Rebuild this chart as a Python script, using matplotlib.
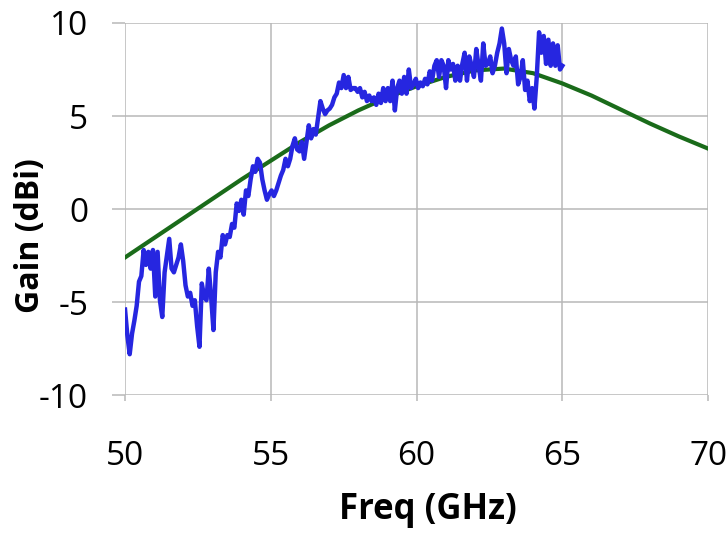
import numpy as np
import matplotlib.pyplot as plt

plt.rcParams['font.family'] = ['Open Sans', 'DejaVu Sans']
plt.rcParams['axes.unicode_minus'] = False

# simulated gain (green), 1 GHz steps
sim_freq = [50, 51, 52, 53, 54, 55, 56, 57, 58, 59, 60,
            61, 62, 63, 64, 65, 66, 67, 68, 69, 70]
sim_gain = [-2.6, -1.55, -0.5, 0.55, 1.6, 2.6, 3.6, 4.5, 5.3, 6.0, 6.6,
            7.1, 7.45, 7.55, 7.3, 6.75, 6.1, 5.35, 4.6, 3.9, 3.25]

# measured gain (blue), uniform sweep 50-65 GHz
meas_gain = [
    -5.4, -6.8, -7.8, -6.7, -6.0, -5.2, -3.9, -3.6, -2.2, -3.0,
    -2.3, -3.2, -2.2, -4.7, -2.3, -4.9, -5.8, -3.4, -2.5, -1.6,
    -3.2, -3.4, -3.0, -2.6, -1.9, -2.8, -4.1, -4.7, -4.5, -5.2,
    -4.9, -6.3, -7.4, -4.0, -4.7, -4.9, -3.2, -4.7, -6.5, -3.4,
    -2.3, -2.6, -1.4, -1.9, -1.4, -1.5, -0.8, -1.0, 0.3, -0.1,
    0.5, -0.3, 1.0, 0.7, 1.6, 2.3, 2.0, 2.7, 2.5, 1.6,
    1.0, 0.5, 0.8, 1.0, 0.7, 1.0, 1.4, 1.8, 2.1, 2.7,
    2.3, 2.7, 3.4, 3.8, 3.2, 3.1, 3.6, 2.7, 3.6, 4.5,
    3.8, 4.3, 4.0, 4.9, 5.8, 5.4, 5.1, 5.3, 5.4, 5.6,
    6.0, 6.2, 6.8, 6.5, 7.2, 6.5, 7.1, 6.4, 6.5, 6.5,
    6.3, 6.5, 6.0, 6.3, 5.8, 6.1, 5.8, 6.0, 5.6, 6.2,
    5.7, 6.5, 5.8, 6.5, 5.8, 6.9, 5.3, 6.5, 6.9, 6.2,
    7.1, 6.2, 7.5, 6.5, 6.7, 7.0, 6.5, 6.8, 6.6, 7.0,
    6.7, 7.4, 6.9, 7.7, 8.0, 7.1, 8.0, 7.7, 6.5, 8.0,
    7.5, 7.8, 6.9, 7.7, 6.9, 7.8, 8.4, 6.9, 8.2, 7.7,
    7.1, 8.6, 7.7, 6.9, 8.9, 7.7, 7.8, 8.2, 7.3, 7.7,
    8.4, 8.9, 9.7, 8.9, 7.3, 8.6, 8.0, 7.7, 8.2, 6.7,
    7.1, 8.0, 6.4, 6.9, 5.8, 6.5, 5.4, 7.1, 9.5, 8.4,
    9.3, 7.8, 9.1, 7.7, 8.9, 7.7, 8.8, 7.5, 7.7,
]
meas_freq = np.linspace(50, 65, len(meas_gain))

fig = plt.figure(figsize=(7.27, 5.34), dpi=100)
ax = fig.add_axes([0.172, 0.26, 0.802, 0.697])

ax.plot(sim_freq, sim_gain, color='#1a6b1a', lw=3.0, zorder=3)
ax.plot(meas_freq, meas_gain, color='#2626e0', lw=3.2, zorder=4)

ax.set_xlim(50, 70)
ax.set_ylim(-10, 10)
ax.set_xticks([50, 55, 60, 65, 70])
ax.set_yticks([-10, -5, 0, 5, 10])
ax.grid(True, color='#b8b8b8', lw=1.1)
for s in ax.spines.values():
    s.set_visible(False)
ax.tick_params(axis='y', length=9.5, color='#b8b8b8', width=1.1, pad=17, labelsize=24)
ax.tick_params(axis='x', length=4, color='#b8b8b8', width=1.1, pad=28, labelsize=24)

fig.text(428 / 727, 1 - 510 / 534, 'Freq (GHz)', fontsize=25, fontweight='bold',
         ha='center', va='center')
fig.text(30 / 727, 1 - 236 / 534, 'Gain (dBi)', fontsize=23, fontweight='bold',
         rotation=90, ha='center', va='center')

fig.savefig('out.png')
